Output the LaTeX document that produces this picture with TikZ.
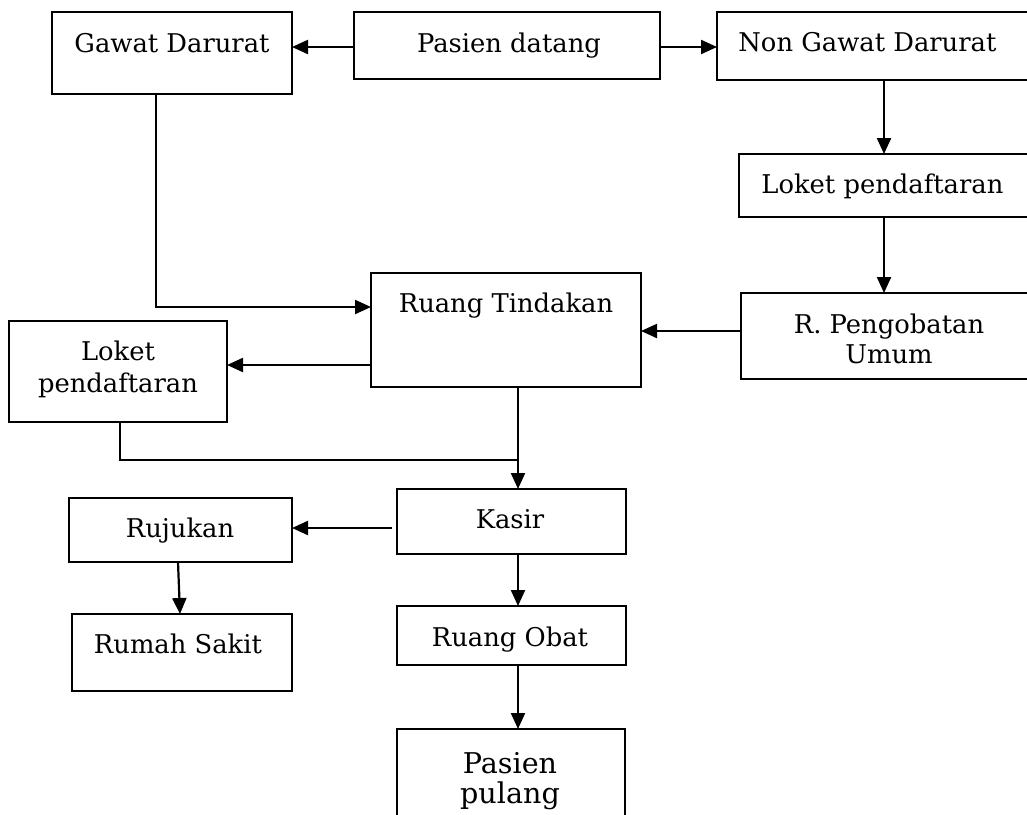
\documentclass[tikz,border=0pt]{standalone}
\usepackage{fontspec}
\setmainfont{DejaVu Serif}
\usetikzlibrary{arrows.meta,fit}
\tikzset{
  box/.style={draw, line width=1.2pt, inner sep=0pt, outer sep=0pt, fill=white},
  lbl/.style={anchor=base, inner sep=0pt, font=\fontsize{12.9}{15}\selectfont},
  lblw/.style={anchor=base west, inner sep=0pt, font=\fontsize{12.9}{15}\selectfont},
  biglbl/.style={anchor=base, inner sep=0pt, font=\fontsize{14.3}{16}\selectfont},
  link/.style={line width=1.1pt},
  arr/.style={line width=1.1pt, -{Triangle[length=8pt,width=7pt]}}
}
\begin{document}
\begin{tikzpicture}[x=0.5pt,y=-0.5pt]
\fill[white] (0,0) rectangle (1027,814);
\clip (0,0) rectangle (1027,814);
% boxes
\node[box, fit={(52,12) (292,94)}] (gd) {};
\node[box, fit={(354,12) (660,79)}] (pd) {};
\node[box, fit={(717,12) (1045,80)}] (ngd) {};
\node[box, fit={(739,154) (1045,217)}] (lr) {};
\node[box, fit={(741,293) (1045,379)}] (rpu) {};
\node[box, fit={(371,273) (641,387)}] (rt) {};
\node[box, fit={(9,321) (227,422)}] (ll) {};
\node[box, fit={(397,489) (626,554)}] (ks) {};
\node[box, fit={(69,498) (292,562)}] (rj) {};
\node[box, fit={(72,614) (292,691)}] (rs) {};
\node[box, fit={(397,606) (626,665)}] (ro) {};
\node[box, fit={(397,729) (625,840)}] (pp) {};
% texts
\node[lbl] (tgd) at (172,52) {Gawat Darurat};
\node[lbl] (tpd) at (509,52) {Pasien datang};
\node[lblw] (tngd) at (738,51) {Non Gawat Darurat};
\node[lblw] (tlr) at (761,193) {Loket pendaftaran};
\node[lbl] (trpu1) at (889,333) {R. Pengobatan};
\node[lbl] (trpu2) at (889,363) {Umum};
\node[lbl] (trt) at (506,312) {Ruang Tindakan};
\node[lbl] (tll1) at (118,360) {Loket};
\node[lbl] (tll2) at (118,392) {pendaftaran};
\node[lbl] (tks) at (510,528) {Kasir};
\node[lbl] (trj) at (180,537) {Rujukan};
\node[lbl] (trs) at (178,653) {Rumah Sakit};
\node[lbl] (tro) at (510,646) {Ruang Obat};
\node[biglbl] (tpp1) at (510,773) {Pasien};
\node[biglbl] (tpp2) at (510,803) {pulang};
% helper coordinates
\coordinate (xr) at (884,0);
\coordinate (xm) at (518,0);
\coordinate (xg) at (156,0);
\coordinate (xl) at (120,0);
\coordinate (xa) at (178,0);
\coordinate (xb) at (180,0);
\coordinate (yt) at (0,47);
\coordinate (yg) at (0,307);
\coordinate (yp) at (0,331);
\coordinate (yl) at (0,365);
\coordinate (yj) at (0,460);
\coordinate (yk) at (0,528);
\coordinate (ks0) at (392,528);
% connectors
\draw[arr] (pd.west |- yt) -- (gd.east |- yt);
\draw[arr] (pd.east |- yt) -- (ngd.west |- yt);
\draw[arr] (ngd.south -| xr) -- (lr.north -| xr);
\draw[arr] (lr.south -| xr) -- (rpu.north -| xr);
\draw[arr] (rpu.west |- yp) -- (rt.east |- yp);
\draw[arr] (gd.south -| xg) |- (rt.west |- yg);
\draw[arr] (rt.west |- yl) -- (ll.east |- yl);
\draw[link] (ll.south -| xl) |- (xm |- yj);
\draw[arr] (rt.south -| xm) -- (ks.north -| xm);
\draw[arr] (ks0) -- (rj.east |- yk);
\draw[arr] (rj.south -| xa) -- (rs.north -| xb);
\draw[arr] (ks.south -| xm) -- (ro.north -| xm);
\draw[arr] (ro.south -| xm) -- (pp.north -| xm);
\end{tikzpicture}
\end{document}
